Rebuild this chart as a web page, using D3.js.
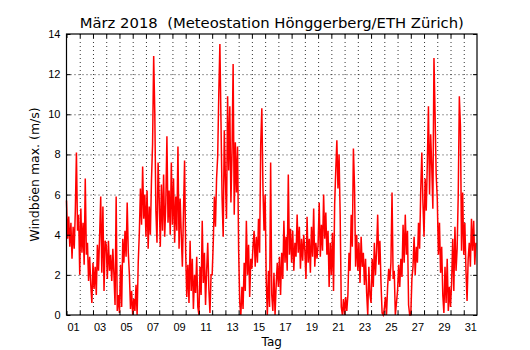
<!DOCTYPE html>
<html>
<head>
<meta charset="utf-8">
<script src="https://cdn.jsdelivr.net/npm/d3@7"></script>
<style>
  body { margin: 0; background: #fff; }
  svg { display: block; }
</style>
</head>
<body>
<svg id="chart" width="530" height="350"></svg>
<script>
const svg = d3.select("#chart")
const margin = {top: 34, right: 53, bottom: 35, left: 66.5};
const width = +svg.attr("width") - margin.left - margin.right;
const height = +svg.attr("height") - margin.top - margin.bottom;

const fontFamily = "DejaVu Sans, sans-serif";

// Maerz 2018, Werte alle 2 Stunden ab 01.03. 00:00 (eine Zeile pro Tag)
const startDay = Date.UTC(2018, 2, 1);
const endDay = Date.UTC(2018, 3, 1);
const stepHours = 2;
const gusts = [
  5.7, 3.8, 4.9, 3.4, 4.6, 2.8, 4.4, 3.3, 5.2, 8.1, 4.2, 5.0,
  2.0, 5.3, 3.1, 4.6, 2.5, 6.8, 3.0, 3.6, 1.7, 2.9, 1.5, 0.6,
  2.6, 1.3, 2.4, 1.0, 3.5, 2.2, 3.9, 5.9, 2.1, 5.4, 1.2, 3.7,
  3.5, 1.8, 3.7, 2.2, 3.0, 1.7, 3.3, 2.0, 0.5, 5.9, 0.2, 1.0,
  0.1, 2.5, 0.4, 3.8, 2.6, 4.2, 2.9, 5.6, 3.1, 2.0, 0.3, 1.2,
  0.0, 0.8, 0.2, 1.5, 0.0, 2.6, 4.1, 6.3, 4.5, 7.4, 4.8, 6.0,
  3.9, 6.2, 3.3, 5.4, 4.0, 6.7, 8.5, 12.9, 10.1, 5.2, 3.6, 7.6,
  5.8, 3.4, 6.5, 4.2, 7.0, 3.9, 5.6, 8.9, 4.6, 6.2, 4.0, 7.6,
  4.5, 6.8, 3.6, 5.9, 4.2, 8.4, 3.3, 5.8, 4.0, 2.4, 5.1, 7.7,
  3.1, 0.9, 2.5, 0.6, 3.7, 1.2, 2.8, 0.3, 2.0, 1.1, 2.9, 0.4,
  0.0, 2.4, 1.0, 4.7, 1.6, 3.1, 0.5, 2.2, 3.6, 1.3, 0.1, 2.0,
  2.0, 3.6, 5.9, 4.4, 6.8, 7.9, 11.0, 13.5, 9.6, 5.8, 3.9, 9.2,
  6.8, 4.8, 10.9, 7.2, 10.4, 5.6, 8.1, 12.5, 5.0, 8.6, 6.1, 8.4,
  3.2, 0.6, 0.0, 1.4, 0.3, 2.6, 1.2, 4.7, 2.0, 3.5, 0.9, 2.8,
  2.3, 3.4, 4.2, 2.4, 3.9, 2.6, 4.8, 3.1, 8.5, 10.3, 6.4, 4.2,
  6.0, 1.8, 0.0, 2.2, 0.4, 7.6, 1.0, 0.2, 2.1, 0.0, 1.5, 2.6,
  1.4, 2.9, 1.0, 3.1, 1.8, 4.7, 2.6, 3.9, 2.2, 7.0, 3.0, 4.3,
  2.6, 4.2, 2.2, 3.6, 2.9, 5.0, 3.1, 4.4, 2.3, 3.8, 2.7, 4.0,
  3.2, 1.8, 4.9, 2.6, 3.8, 2.1, 4.4, 2.9, 5.3, 2.4, 3.6, 2.8,
  3.5, 5.6, 2.9, 4.5, 3.2, 6.0, 3.8, 5.1, 3.0, 4.2, 1.4, 3.6,
  2.0, 4.1, 1.2, 5.5, 7.2, 8.7, 6.3, 8.0, 5.0, 0.4, 0.0, 0.8,
  0.0, 0.9, 0.2, 1.0, 3.1, 2.2, 5.0, 3.4, 8.3, 6.4, 2.4, 4.0,
  2.2, 3.6, 1.6, 3.9, 2.4, 3.1, 1.5, 2.8, 1.1, 0.0, 2.4, 1.0,
  0.6, 2.8, 1.4, 3.6, 2.0, 3.2, 5.0, 2.5, 3.7, 1.6, 0.1, 0.0,
  0.3, 0.9, 0.0, 1.4, 2.3, 1.7, 2.6, 6.1, 1.8, 2.2, 0.0, 0.6,
  1.2, 2.5, 1.4, 2.8, 1.9, 4.5, 2.6, 5.0, 3.0, 4.2, 0.5, 0.0,
  0.0, 1.8, 2.4, 3.9, 2.0, 3.4, 2.6, 4.6, 3.3, 6.2, 8.1, 5.6,
  3.9, 6.8, 5.2, 7.6, 10.4, 6.0, 9.0, 7.4, 5.3, 12.8, 10.0, 7.0,
  5.8, 3.0, 4.6, 2.1, 3.4, 1.0, 0.1, 2.4, 0.6, 2.8, 0.2, 1.4,
  0.4, 1.6, 3.8, 1.2, 4.4, 2.2, 3.3, 6.0, 10.9, 9.4, 3.2, 6.1,
  3.0, 4.6, 2.2, 0.7, 2.8, 3.6, 2.4, 4.8, 3.2, 4.7, 2.5, 3.6
];

const dayLabels = ["01","03","05","07","09","11","13","15","17","19","21","23","25","27","29","31"];
const yTicks = [0, 2, 4, 6, 8, 10, 12, 14];
const yMax = 14;

const title = "März 2018  (Meteostation Hönggerberg/ETH Zürich)";
const xTitle = "Tag";
const yTitle = "Windböen max. (m/s)";

svg.attr("font-family", fontFamily);
svg.append("rect").attr("width", 530).attr("height", 350).attr("fill", "#fff");

const g = svg.append("g").attr("transform", `translate(${margin.left},${margin.top})`);

const x = d3.scaleUtc()
  .domain([startDay, endDay])
  .range([0, width]);

const y = d3.scaleLinear()
  .domain([0, yMax])
  .range([height, 0]);

const midnights = d3.utcDay.range(new Date(startDay), new Date(endDay));
const labelDates = dayLabels.map(d => new Date(Date.UTC(2018, 2, +d, 12)));

// gitter (gepunktet)
g.append("g")
  .attr("class", "grid")
  .call(d3.axisBottom(x).tickValues(midnights.slice(1)).tickSize(height).tickFormat(""))
  .call(g => g.select(".domain").remove());
g.append("g")
  .attr("class", "grid")
  .call(d3.axisLeft(y).tickValues(yTicks.slice(1, -1)).tickSize(-width).tickFormat(""))
  .call(g => g.select(".domain").remove());
g.selectAll(".grid line")
  .attr("stroke", "#000")
  .attr("stroke-width", 0.8)
  .attr("stroke-dasharray", "1,3");

// daten
const line = d3.line()
  .x((d, i) => x(new Date(startDay + i * stepHours * 3600e3)))
  .y(d => y(d));

g.append("path")
  .datum(gusts)
  .attr("fill", "none")
  .attr("stroke", "#ff0000")
  .attr("stroke-width", 1.5)
  .attr("stroke-linejoin", "miter")
  .attr("d", line);

// achsen: ticks nach innen
const tickLen = 4;
g.append("g")
  .attr("transform", `translate(0,${height})`)
  .call(d3.axisBottom(x).tickValues(midnights).tickSize(-tickLen).tickFormat(""))
  .call(g => g.select(".domain").remove());
g.append("g")
  .call(d3.axisTop(x).tickValues(midnights).tickSize(-tickLen).tickFormat(""))
  .call(g => g.select(".domain").remove());
g.append("g")
  .attr("transform", `translate(0,${height})`)
  .call(d3.axisBottom(x).tickValues(labelDates).tickSize(0).tickPadding(8)
    .tickFormat(d3.utcFormat("%d")))
  .call(g => g.select(".domain").remove())
  .selectAll("text").attr("font-size", 11).attr("fill", "#000");

g.append("g")
  .call(d3.axisLeft(y).tickValues(yTicks).tickSize(-tickLen).tickPadding(6))
  .call(g => g.select(".domain").remove())
  .selectAll("text").attr("font-size", 11).attr("fill", "#000");
g.append("g")
  .attr("transform", `translate(${width},0)`)
  .call(d3.axisRight(y).tickValues(yTicks).tickSize(-tickLen).tickFormat(""))
  .call(g => g.select(".domain").remove());

g.selectAll(".tick line").filter(function() { return !this.closest(".grid"); })
  .attr("stroke", "#000").attr("stroke-width", 1);

// rahmen
g.append("rect")
  .attr("width", width)
  .attr("height", height)
  .attr("fill", "none")
  .attr("stroke", "#000")
  .attr("stroke-width", 1.2);

// beschriftung
svg.append("text")
  .attr("x", margin.left + width / 2)
  .attr("y", 28)
  .attr("text-anchor", "middle")
  .attr("font-size", 14.8)
  .style("white-space", "pre")
  .text(title);

svg.append("text")
  .attr("x", margin.left + width / 2)
  .attr("y", 346)
  .attr("text-anchor", "middle")
  .attr("font-size", 12)
  .text(xTitle);

svg.append("text")
  .attr("transform", `translate(38.5,${margin.top + height / 2}) rotate(-90)`)
  .attr("text-anchor", "middle")
  .attr("font-size", 12.5)
  .text(yTitle);
</script>
</body>
</html>
